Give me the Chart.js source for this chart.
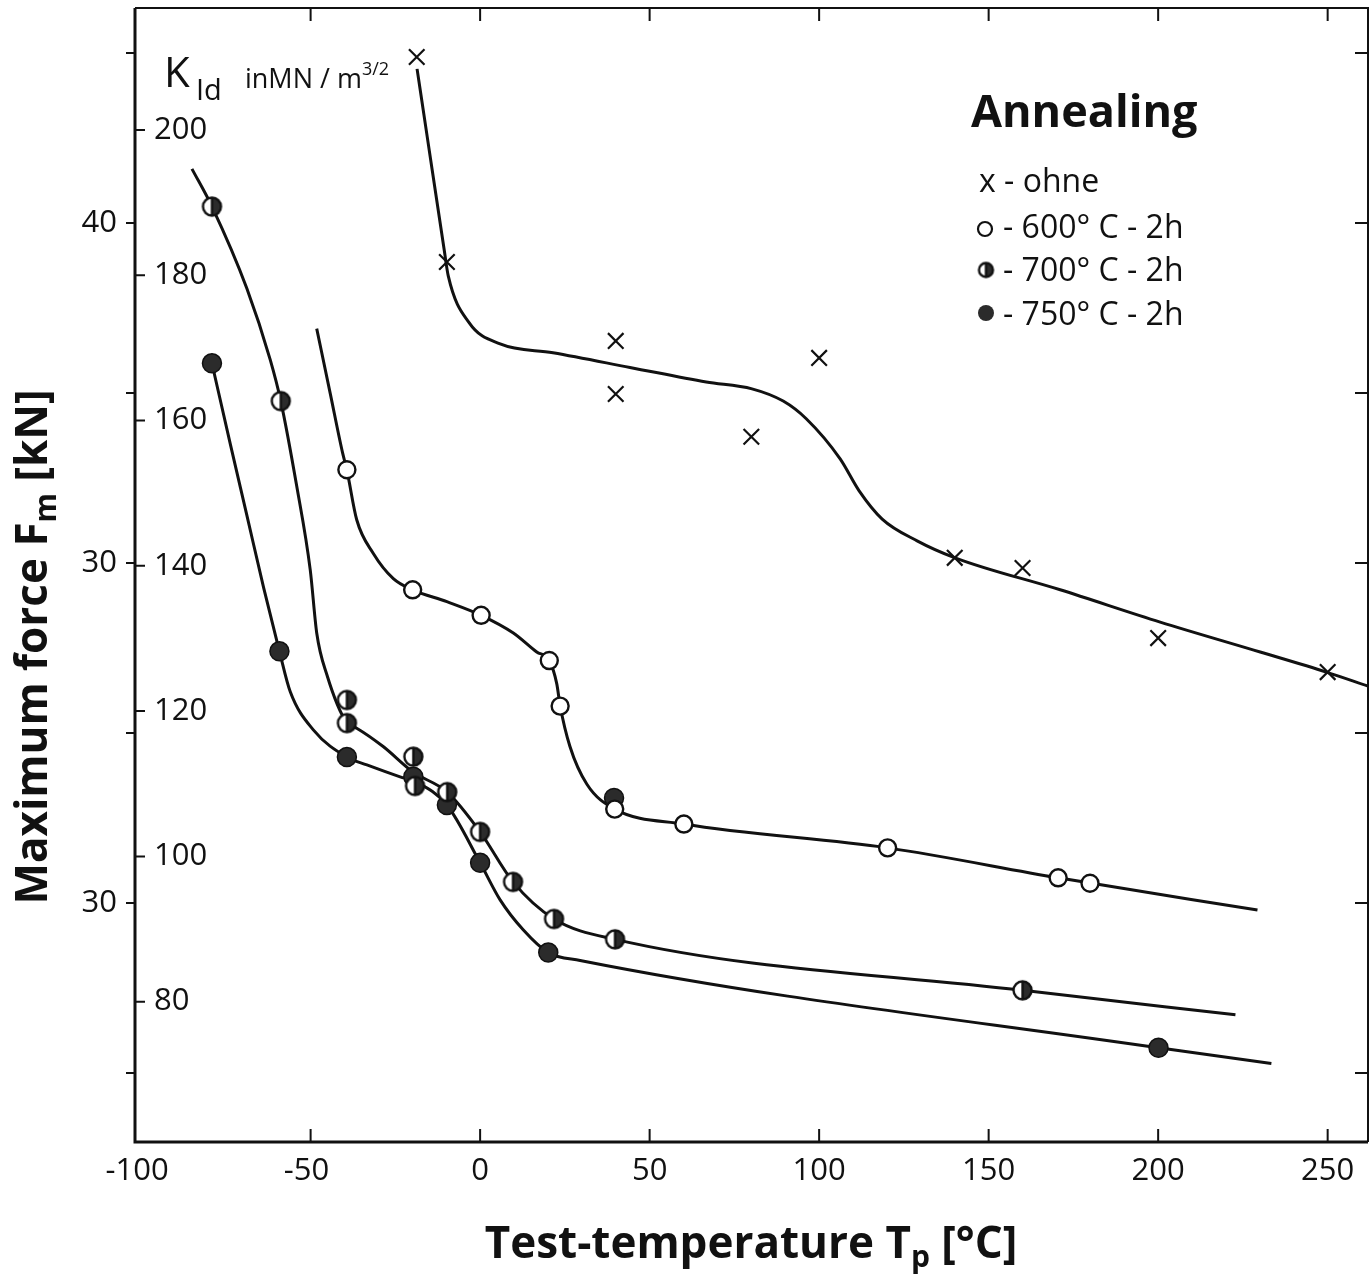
<!DOCTYPE html>
<html lang="de">
<head>
<meta charset="UTF-8">
<title>Maximum force vs. test temperature</title>
<script src="https://cdn.jsdelivr.net/npm/chart.js"></script>
<style>
  body { margin: 0; background: #fff; }
  #chart-container { width: 1372px; height: 1278px; }
</style>
</head>
<body>
<div id="chart-container"><canvas id="annealChart"></canvas></div>
<script>
// ---- data (T in °C, F in kN) ----
// measured points
const ohneT = [-18.7, -9.8, 40, 40, 80, 100, 140, 160, 200, 250];
const ohneF = [44.88, 38.85, 36.53, 34.97, 33.71, 36.03, 30.15, 29.85, 27.79, 26.79];
const t600 = [-39.3, -19.9, 0.3, 20.4, 23.6, 39.7, 60.1, 120.2, 170.5, 179.9];
const f600 = [32.74, 29.21, 28.46, 27.13, 25.79, 22.76, 22.32, 21.62, 20.74, 20.58];
const t700 = [-79.1, -58.8, -39.3, -39.3, -19.7, -19.2, -9.7, 0, 9.7, 21.8, 39.8, 160];
const f700 = [40.48, 34.76, 25.97, 25.29, 24.30, 23.44, 23.26, 22.09, 20.62, 19.53, 18.93, 17.43];
const t750 = [-79.1, -59.2, -39.3, -19.7, -9.8, 0, 20.1, 39.5, 200.1];
const f750 = [35.87, 27.40, 24.29, 23.71, 22.88, 21.18, 18.54, 23.09, 15.74];

// hand-drawn fit curves
const ohneCurveT = [-18.6, -15.6, -10.6, -9.4, -3.2, 5.9, 21.5, 44.2, 66.7, 80.2, 89.4, 96.2, 106.2, 111.8, 118.6, 128.9, 140.1, 171.1, 200.6, 230.1, 249.6, 261.9];
const ohneCurveF = [44.53, 42.53, 39.21, 38.44, 37.06, 36.44, 36.18, 35.75, 35.32, 35.12, 34.76, 34.24, 33.06, 32.12, 31.29, 30.65, 30.15, 29.21, 28.26, 27.38, 26.79, 26.38];
const curve600T = [-48.2, -44.2, -40.6, -39.3, -36.4, -31.5, -25.6, -19.9, -9.8, 0.3, 9.8, 16.7, 20.4, 22.6, 23.6, 26.5, 31.5, 39.7, 60.1, 120.2, 170.5, 229.3];
const curve600F = [36.89, 34.98, 33.25, 32.73, 31.27, 30.28, 29.54, 29.21, 28.86, 28.46, 27.94, 27.38, 27.13, 26.45, 25.80, 24.60, 23.49, 22.76, 22.32, 21.62, 20.74, 19.79];
const curve700T = [-85.0, -79.1, -68.8, -61.9, -58.8, -54.1, -50.1, -48.2, -45.2, -39.3, -36.4, -28.6, -19.8, -9.7, 0, 9.7, 21.8, 39.8, 160, 222.8];
const curve700F = [41.59, 40.48, 38.07, 35.97, 34.76, 32.26, 29.79, 27.94, 26.71, 25.29, 25.14, 24.60, 23.85, 23.26, 22.09, 20.62, 19.53, 18.93, 17.43, 16.71];
const curve750T = [-79.1, -73.7, -68.8, -63.9, -59.2, -56.0, -49.2, -39.3, -33.4, -23.6, -19.2, -9.8, 0, 5.9, 12.7, 20.1, 29.5, 200.1, 233.4];
const curve750F = [35.87, 33.50, 31.40, 29.29, 27.40, 26.21, 25.09, 24.29, 24.06, 23.71, 23.57, 22.88, 21.18, 20.09, 19.21, 18.54, 18.31, 15.74, 15.28];

// axes
const xTicks = [-100, -50, 0, 50, 100, 150, 200, 250];
const xTickLabels = ['-100 ', '-50 ', '0', '50', '100', '150', '200', '250'];
const forceTicks = [15, 20, 25, 30, 35, 40, 45];
const forceTickLabels = ['', '30', '', '30', '', '40', ''];   // as printed in the original
const kTicks = [80, 100, 120, 140, 160, 180, 200];

const xMin = -101.8, xMax = 261.9;
const fMin = 12.97, fMax = 46.32;
const kMin = 60.68, kMax = 216.8;

const FONT = "'Open Sans', sans-serif";
const INK = '#111';
const DARK = '#2b2b2b';

function pts(xs, ys) { return xs.map((v, i) => ({ x: v, y: ys[i] })); }

// half-filled marker (left white, right dark)
function halfDot(r) {
    const c = document.createElement('canvas');
    const s = Math.ceil(2 * r + 5);
    c.width = c.height = s;
    const g = c.getContext('2d');
    const m = s / 2;
    g.fillStyle = '#fff';
    g.beginPath(); g.arc(m, m, r, 0, 2 * Math.PI); g.fill();
    g.fillStyle = DARK;
    g.beginPath(); g.arc(m, m, r, -Math.PI / 2, Math.PI / 2); g.closePath(); g.fill();
    g.strokeStyle = INK; g.lineWidth = 2.4;
    g.beginPath(); g.arc(m, m, r, 0, 2 * Math.PI); g.stroke();
    g.beginPath(); g.moveTo(m, m - r); g.lineTo(m, m + r); g.stroke();
    return c;
}
const halfBig = halfDot(9);
const halfSmall = halfDot(7);

function curve(xs, ys) {
    return {
        data: pts(xs, ys), showLine: true, pointRadius: 0, borderColor: INK,
        borderWidth: 3, cubicInterpolationMode: 'monotone', fill: false
    };
}

// draws a row of text pieces, [text, font, dy]
function drawRuns(ctx, runs, x, y, align) {
    let w = 0;
    runs.forEach(r => { ctx.font = r[1]; w += ctx.measureText(r[0]).width; });
    let cx = align === 'center' ? x - w / 2 : x;
    runs.forEach(r => {
        ctx.font = r[1];
        ctx.fillText(r[0], cx, y + (r[2] || 0));
        cx += ctx.measureText(r[0]).width;
    });
}

// no extra room for labels hanging over the ends of the axes
function noPad(s) {
    s.paddingTop = 0; s.paddingBottom = 0; s.paddingLeft = 0; s.paddingRight = 0;
}

const frame = {
    id: 'frame',
    afterDatasetsDraw(chart) {
        const { ctx, chartArea: a } = chart;
        const sx = chart.scales.x, sy = chart.scales.y, sk = chart.scales.yK;
        ctx.save();
        ctx.strokeStyle = INK;
        ctx.lineWidth = 2;
        ctx.beginPath();
        ctx.moveTo(a.left, a.top); ctx.lineTo(a.right, a.top); ctx.lineTo(a.right, a.bottom);
        ctx.stroke();
        ctx.lineWidth = 3;
        ctx.beginPath();
        ctx.moveTo(a.left, a.top); ctx.lineTo(a.left, a.bottom); ctx.lineTo(a.right, a.bottom);
        ctx.stroke();
        ctx.lineWidth = 2;
        ctx.beginPath();
        xTicks.forEach(v => {
            if (v <= -100) return;
            const px = sx.getPixelForValue(v);
            ctx.moveTo(px, a.bottom); ctx.lineTo(px, a.bottom - 13);
            ctx.moveTo(px, a.top); ctx.lineTo(px, a.top + 13);
        });
        forceTicks.forEach(v => {
            const py = sy.getPixelForValue(v);
            ctx.moveTo(a.left - 9, py); ctx.lineTo(a.left, py);
            ctx.moveTo(a.right, py); ctx.lineTo(a.right - 13, py);
        });
        kTicks.forEach(v => {
            const py = sk.getPixelForValue(v);
            ctx.moveTo(a.left, py); ctx.lineTo(a.left + 10, py);
        });
        ctx.stroke();
        ctx.restore();
    }
};

const labels = {
    id: 'labels',
    afterDraw(chart) {
        const ctx = chart.ctx;
        ctx.save();
        ctx.fillStyle = INK;
        ctx.textBaseline = 'alphabetic';

        // x title
        drawRuns(ctx, [['Test-temperature T', `bold 44px ${FONT}`], ['p', `bold 30px ${FONT}`, 9],
            [' [°C]', `bold 44px ${FONT}`]], 751, 1258, 'center');

        // y title
        ctx.save();
        ctx.translate(47, 647);
        ctx.rotate(-Math.PI / 2);
        drawRuns(ctx, [['Maximum force F', `bold 44px ${FONT}`], ['m', `bold 30px ${FONT}`, 9],
            [' [kN]', `bold 44px ${FONT}`]], 0, 0, 'center');
        ctx.restore();

        // K_Id annotation for the inner scale
        ctx.font = `42px ${FONT}`; ctx.fillText('K', 164, 87);
        ctx.font = `29px ${FONT}`; ctx.fillText('Id', 196, 100);
        drawRuns(ctx, [['inMN / m', `27px ${FONT}`], ['3/2', `18px ${FONT}`, -13]], 245, 88, 'left');

        // legend
        ctx.font = `bold 45px ${FONT}`;
        ctx.fillText('Annealing', 971, 127);
        ctx.font = `32px ${FONT}`;
        ctx.fillText('x - ohne', 979, 192);
        ctx.fillText('- 600° C - 2h', 1003, 238);
        ctx.fillText('- 700° C - 2h', 1003, 281);
        ctx.fillText('- 750° C - 2h', 1003, 325);
        ctx.lineWidth = 2.2;
        ctx.strokeStyle = INK;
        ctx.beginPath(); ctx.arc(985, 229, 7, 0, 2 * Math.PI); ctx.stroke();
        ctx.drawImage(halfSmall, 986 - halfSmall.width / 2, 270 - halfSmall.height / 2);
        ctx.fillStyle = DARK;
        ctx.beginPath(); ctx.arc(986, 313, 8, 0, 2 * Math.PI); ctx.fill();
        ctx.restore();
    }
};

const ctx = document.getElementById('annealChart').getContext('2d');
Chart.defaults.font.family = FONT;
Chart.defaults.color = INK;

new Chart(ctx, {
    type: 'scatter',
    data: {
        datasets: [
            { data: pts(ohneT, ohneF), pointStyle: 'crossRot', pointRadius: 11, borderColor: INK, borderWidth: 2.2 },
            { data: pts(t600, f600), pointStyle: 'circle', pointRadius: 8.5, backgroundColor: '#fff', borderColor: INK, borderWidth: 2.4 },
            { data: pts(t700, f700), pointStyle: halfBig, pointRadius: 9 },
            { data: pts(t750, f750), pointStyle: 'circle', pointRadius: 9.5, backgroundColor: DARK, borderColor: INK, borderWidth: 1.5 },
            curve(ohneCurveT, ohneCurveF),
            curve(curve600T, curve600F),
            curve(curve700T, curve700F),
            curve(curve750T, curve750F)
        ]
    },
    options: {
        responsive: true,
        maintainAspectRatio: false,
        animation: false,
        layout: { autoPadding: false, padding: { top: 8, right: 4, left: 0, bottom: 0 } },
        plugins: { legend: { display: false }, tooltip: { enabled: false } },
        scales: {
            x: {
                type: 'linear', min: xMin, max: xMax,
                afterBuildTicks: s => { s.ticks = xTicks.map(v => ({ value: v })); },
                afterFit: s => { s.height = 136; noPad(s); },
                grid: { display: false, drawTicks: false },
                border: { display: false },
                ticks: {
                    font: { size: 31 }, padding: 11, autoSkip: false, maxRotation: 0,
                    callback: v => xTickLabels[xTicks.indexOf(v)]
                }
            },
            y: {
                type: 'linear', position: 'left', weight: 1, min: fMin, max: fMax,
                afterBuildTicks: s => { s.ticks = forceTicks.map(v => ({ value: v })); },
                afterFit: s => { s.width = 135; noPad(s); },
                grid: { display: false, drawTicks: false },
                border: { display: false },
                ticks: {
                    font: { size: 31 }, padding: 18, autoSkip: false,
                    callback: v => forceTickLabels[forceTicks.indexOf(v)]
                }
            },
            yK: {
                type: 'linear', position: 'left', weight: 0, min: kMin, max: kMax,
                afterBuildTicks: s => { s.ticks = kTicks.map(v => ({ value: v })); },
                afterFit: s => { s.width = 0; noPad(s); },
                grid: { display: false, drawTicks: false },
                border: { display: false },
                ticks: { font: { size: 31 }, padding: 19, mirror: true, autoSkip: false }
            }
        }
    },
    plugins: [frame, labels]
});
</script>
</body>
</html>
